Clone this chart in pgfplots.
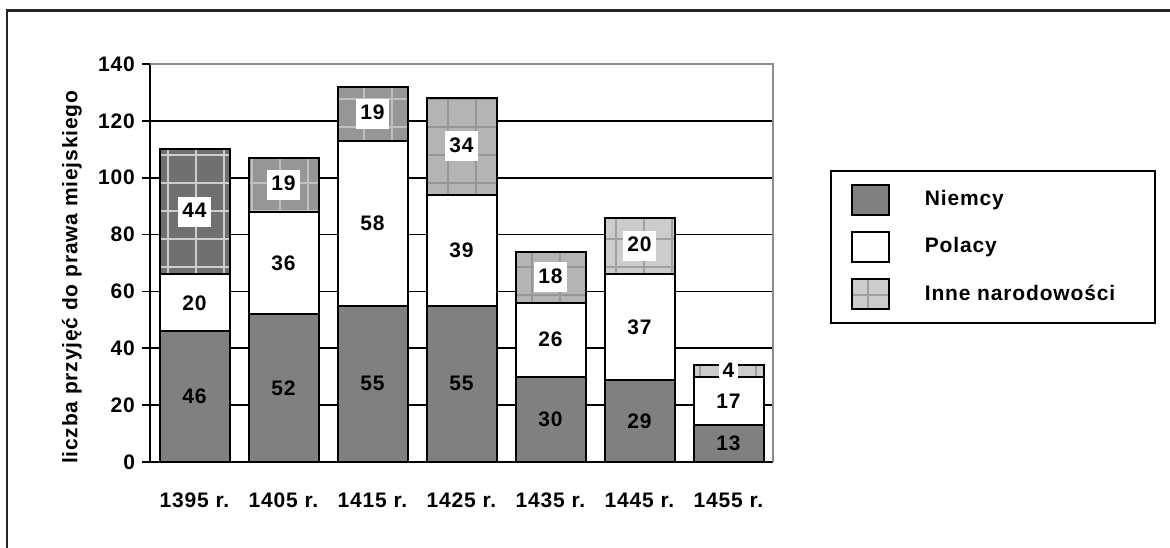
\documentclass[border=0pt]{standalone}
\usepackage{fontspec}
\setmainfont{Liberation Sans}[LetterSpace=4]
\usepackage{pgfplots}
\pgfplotsset{compat=1.18}
\usetikzlibrary{patterns.meta}

\definecolor{niem}{RGB}{128,128,128}
\definecolor{inneA}{RGB}{112,112,112}
\definecolor{gridA}{RGB}{205,205,205}
\definecolor{inneB}{RGB}{150,150,150}
\definecolor{gridB}{RGB}{192,192,192}
\definecolor{inneC}{RGB}{180,180,180}
\definecolor{gridC}{RGB}{150,150,150}
\definecolor{inneD}{RGB}{204,204,204}
\definecolor{gridD}{RGB}{160,160,160}

\setlength{\fboxsep}{2pt}

\tikzset{
  gridbar/.style 2 args={fill=#1,
    postaction={pattern={Lines[angle=0,distance=14pt,line width=1pt]},pattern color=#2},
    postaction={pattern={Lines[angle=90,distance=14pt,line width=1pt]},pattern color=#2}},
}
\pgfplotsset{
  boxleg/.style={legend image code/.code={
    \draw[##1] (0pt,-7.5pt) rectangle (18.5pt,7.5pt);}},
  lbl/.style={point meta=explicit,
    nodes near coords={\pgfmathprintnumber{\pgfplotspointmeta}},
    every node near coord/.append style={anchor=center, black}},
  boxlbl/.style={point meta=explicit,
    nodes near coords={\pgfmathfloatifflags{\pgfplotspointmeta}{0}{}{\colorbox{white}{\rule[-2.5pt]{0pt}{11pt}\pgfmathprintnumber{\pgfplotspointmeta}}}},
    every node near coord/.append style={anchor=center, inner sep=0pt, black}},
}
\newcommand{\legtext}[1]{\makebox[122.5pt][l]{\hspace*{17.5pt}#1}}

\begin{document}
\begin{tikzpicture}[font=\fontsize{10.5pt}{12.6pt}\selectfont\bfseries]
\useasboundingbox (0,0) rectangle (585pt,273.5pt);
\draw[line width=1.25pt, black!85] (3.5pt,-5pt) -- (3.5pt,268.25pt) -- (590pt,268.25pt);
\begin{axis}[
  at={(75pt,42.5pt)}, anchor=south west,
  scale only axis, width=311.5pt, height=199pt,
  ybar stacked, bar width=35pt,
  xmin=-0.5, xmax=6.5, ymin=0, ymax=140,
  xtick={0,1,2,3,4,5,6},
  xticklabels={1395 r.,1405 r.,1415 r.,1425 r.,1435 r.,1445 r.,1455 r.},
  xtick style={draw=none},
  xticklabel style={yshift=-8pt},
  ytick={0,20,40,60,80,100,120,140},
  ymajorgrids, grid style={black, line width=0.85pt},
  axis x line*=bottom, axis y line*=left,
  axis line style={line width=0.85pt},
  tick align=center, major tick length=8pt,
  ytick style={black, line width=0.85pt},
  /pgf/number format/assume math mode=true,
  ylabel={liczba przyjęć do prawa miejskiego},
  ylabel style={at={(axis description cs:-0.1252,0.464)}, anchor=center},
  legend style={at={(rel axis cs:1.0915,0.7337)}, anchor=north west,
    draw=black, line width=0.85pt, inner xsep=10pt, inner ysep=2.75pt,
    row sep=0pt, font=\fontsize{10.5pt}{12.6pt}\selectfont\bfseries, cells={anchor=west},
    nodes={inner sep=0pt, minimum height=23.5pt}},
  after end axis/.code={
    \draw[black!45, line width=0.85pt] (rel axis cs:0,1) -- (rel axis cs:1,1) -- (rel axis cs:1,0);},
]
\addplot[fill=niem, draw=black, line width=1pt, boxleg, lbl]
  coordinates {(0,46) [46] (1,52) [52] (2,55) [55] (3,55) [55] (4,30) [30] (5,29) [29] (6,13) [13]};
\addlegendentry{\legtext{Niemcy}}
\addplot[fill=white, draw=black, line width=1pt, boxleg, lbl]
  coordinates {(0,20) [20] (1,36) [36] (2,58) [58] (3,39) [39] (4,26) [26] (5,37) [37] (6,17) [17]};
\addlegendentry{\legtext{Polacy}}
\addplot[gridbar={inneA}{gridA}, draw=black, line width=1pt, boxlbl, forget plot]
  coordinates {(0,44) [44] (1,0) [0] (2,0) [0] (3,0) [0] (4,0) [0] (5,0) [0] (6,0) [0]};
\addplot[gridbar={inneB}{gridB}, draw=black, line width=1pt, boxlbl, forget plot]
  coordinates {(0,0) [0] (1,19) [19] (2,19) [19] (3,0) [0] (4,0) [0] (5,0) [0] (6,0) [0]};
\addplot[gridbar={inneC}{gridC}, draw=black, line width=1pt, boxlbl, forget plot]
  coordinates {(0,0) [0] (1,0) [0] (2,0) [0] (3,34) [34] (4,18) [18] (5,0) [0] (6,0) [0]};
\addplot[gridbar={inneD}{gridD}, draw=black, line width=1pt, boxleg, boxlbl]
  coordinates {(0,0) [0] (1,0) [0] (2,0) [0] (3,0) [0] (4,0) [0] (5,20) [20] (6,4) [4]};
\addlegendentry{\legtext{Inne narodowości}}
\end{axis}
\end{tikzpicture}
\end{document}
